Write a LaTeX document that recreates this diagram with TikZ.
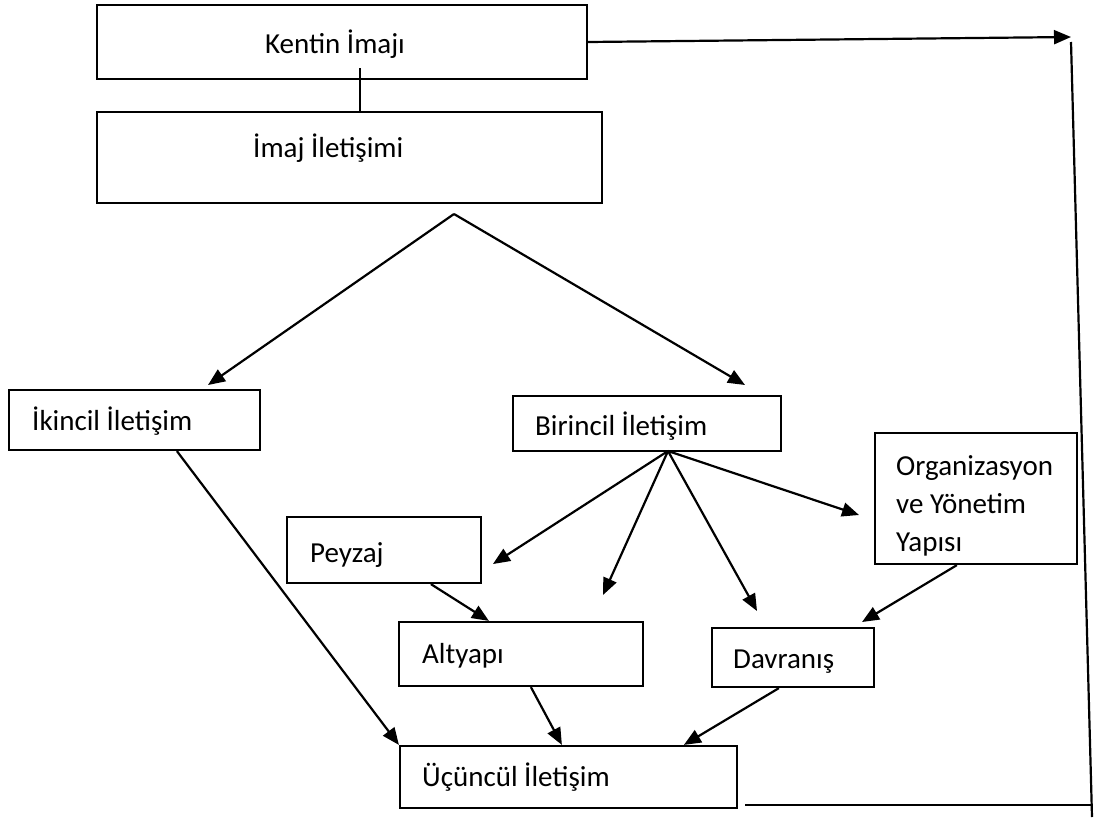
\documentclass[tikz,border=0pt]{standalone}
\usepackage{fontspec}
\setmainfont{Carlito}
\usetikzlibrary{arrows.meta,calc}
\begin{document}
\begin{tikzpicture}[x=1pt,y=-1pt,
  box/.style={draw, line width=2.2pt, inner sep=0pt},
  lbl/.style={font=\fontsize{29}{36}\selectfont, inner sep=0pt, anchor=base west},
  conn/.style={line width=2.2pt},
  arr/.style={line width=2.2pt, -{Triangle[length=17pt,width=14pt]}},
]
\useasboundingbox (0,0) rectangle (1108,817);
\fill[white] (0,0) rectangle (1108,817);

% boxes
\node[box, minimum width=490pt, minimum height=74pt] (kent) at (342,42) {};
\node[box, minimum width=505pt, minimum height=91pt] (imaj) at (349.5,157.5) {};
\node[box, minimum width=251pt, minimum height=60pt] (ikincil) at (134.5,420) {};
\node[box, minimum width=268pt, minimum height=55pt] (birincil) at (647,423.5) {};
\node[box, minimum width=202pt, minimum height=131pt] (org) at (976,498.5) {};
\node[box, minimum width=194pt, minimum height=66pt] (peyzaj) at (384,550) {};
\node[box, minimum width=244pt, minimum height=64pt] (altyapi) at (521,654) {};
\node[box, minimum width=162pt, minimum height=59pt] (davranis) at (793,657.5) {};
\node[box, minimum width=337pt, minimum height=62pt] (ucuncul) at (568.5,777) {};

% texts
\node[lbl, anchor=base] (kent-t) at (335,53) {Kentin İmajı};
\node[lbl] (imaj-t) at (253,157) {İmaj İletişimi};
\node[lbl] (ikincil-t) at (32,430) {İkincil İletişim};
\node[lbl] (birincil-t) at (535,435) {Birincil İletişim};
\node[lbl] (org-t1) at (896,475) {Organizasyon};
\node[lbl] (org-t2) at (896,513) {ve Yönetim};
\node[lbl] (org-t3) at (896,551) {Yapısı};
\node[lbl] (peyzaj-t) at (310,562) {Peyzaj};
\node[lbl] (altyapi-t) at (422,663) {Altyapı};
\node[lbl] (davranis-t) at (733,668) {Davranış};
\node[lbl] (ucuncul-t) at (422,786) {Üçüncül İletişim};

% free points
\coordinate (k1) at (360,68);
\coordinate (rtip) at (1071,37);
\coordinate (rtop) at (1071,42);
\coordinate (rbot) at (1092,817);
\coordinate (bl) at (745,805);
\coordinate (br) at (1091.5,805);
\coordinate (apex) at (454,214);
\coordinate (t-ik) at (208,385);
\coordinate (t-bi) at (745,385);
\coordinate (fan) at (668,451);
\coordinate (f1) at (493,564);
\coordinate (f2) at (603,595);
\coordinate (f3) at (757,611);
\coordinate (f4) at (859,515);
\coordinate (od) at (862,622);

% connectors
\draw[conn] (k1) -- (k1 |- imaj.north);
\draw[arr] (kent.east) -- (rtip);
\draw[conn] (rtop) -- (rbot);
\draw[conn] (bl) -- (br);
\draw[arr] (apex) -- (t-ik);
\draw[arr] (apex) -- (t-bi);
\draw[arr] ($(ikincil.south west)+(169,0)$) -- (ucuncul.north west);
\draw[arr] (fan) -- (f1);
\draw[arr] (fan) -- (f2);
\draw[arr] (fan) -- (f3);
\draw[arr] (fan) -- (f4);
\draw[arr] ($(peyzaj.south west)+(145,0)$) -- ($(altyapi.north west)+(91,0)$);
\draw[arr] ($(altyapi.south west)+(133,0)$) -- ($(ucuncul.north west)+(163,0)$);
\draw[arr] ($(davranis.south west)+(68,0)$) -- ($(ucuncul.north west)+(285,0)$);
\draw[arr] ($(org.south west)+(83,0)$) -- (od);
\end{tikzpicture}
\end{document}
